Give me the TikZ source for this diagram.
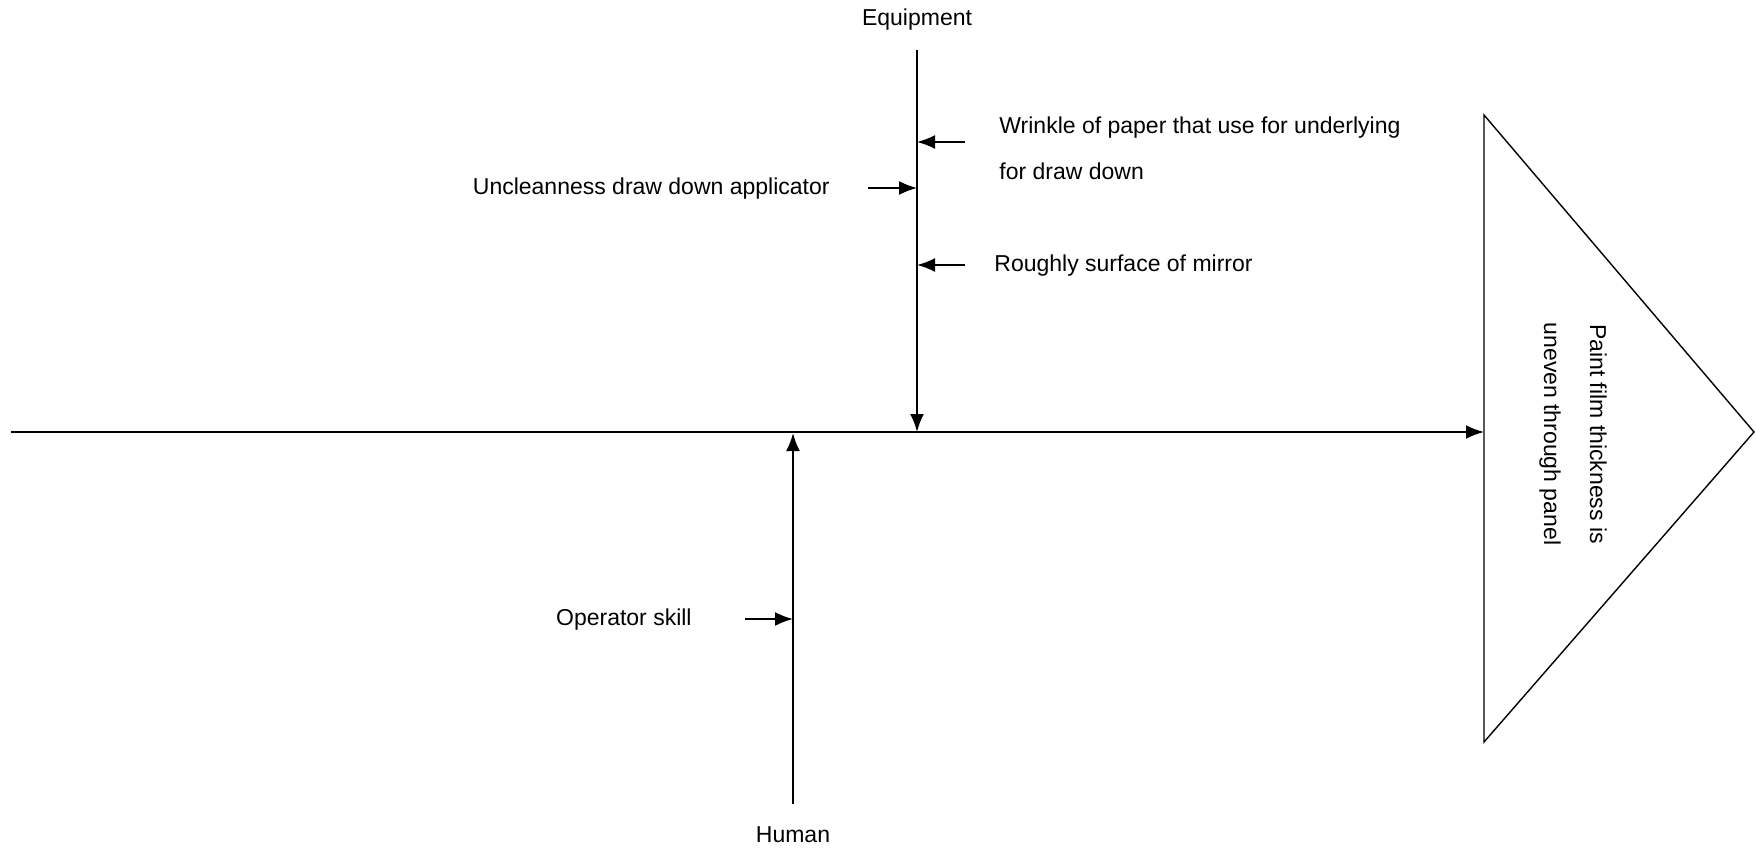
\documentclass[tikz,border=0pt]{standalone}
\usepackage{fontspec}
\setmainfont{Liberation Sans}
\usetikzlibrary{arrows.meta}
\begin{document}
\begin{tikzpicture}[x=0.5pt,y=-0.5pt,
  bone/.style={line width=1pt,-{Latex[length=9pt,width=7pt]}},
  twig/.style={line width=0.9pt,-{Latex[length=9pt,width=7pt]}},
  lbl/.style={font=\fontsize{11.5}{23}\selectfont,inner sep=0pt}]
\useasboundingbox (0,0) rectangle (1756,850);

% head of the fish: the effect
\coordinate (hTop) at (1484,115);
\coordinate (hTip) at (1754,432);
\coordinate (hBot) at (1484,742);
\draw[line width=0.7pt] (hTop) -- (hTip) -- (hBot) -- cycle;
\node[lbl,rotate=-90,align=center] (effect) at (1573,434)
  {Paint film thickness is\\uneven through panel};

% spine
\coordinate (tail) at (11,432);
\coordinate (head) at (1484,432);
\draw[bone] (tail) -- (head);

% Equipment bone
\node[lbl] (equip) at (917,20) {Equipment};
\coordinate (eTop) at (917,50);
\coordinate (eJoin) at (917,432);
\draw[bone] (eTop) -- (eJoin);

\node[lbl,anchor=west,align=left] (wrinkle) at (999,148)
  {Wrinkle of paper that use for underlying\\for draw down};
\coordinate (wFrom) at (965,142);
\coordinate (wTo) at (917,142);
\draw[twig] (wFrom) -- (wTo);

\node[lbl,anchor=east] (unclean) at (830,189) {Uncleanness draw down applicator};
\coordinate (uFrom) at (868,188);
\coordinate (uTo) at (917,188);
\draw[twig] (uFrom) -- (uTo);

\node[lbl,anchor=west] (rough) at (994,266) {Roughly surface of mirror};
\coordinate (rFrom) at (965,265);
\coordinate (rTo) at (917,265);
\draw[twig] (rFrom) -- (rTo);

% Human bone
\node[lbl] (human) at (793,835) {Human};
\coordinate (hmBot) at (793,804);
\coordinate (hmJoin) at (793,433);
\draw[bone] (hmBot) -- (hmJoin);

\node[lbl,anchor=east] (skill) at (692,620) {Operator skill};
\coordinate (sFrom) at (745,619);
\coordinate (sTo) at (793,619);
\draw[twig] (sFrom) -- (sTo);
\end{tikzpicture}
\end{document}
